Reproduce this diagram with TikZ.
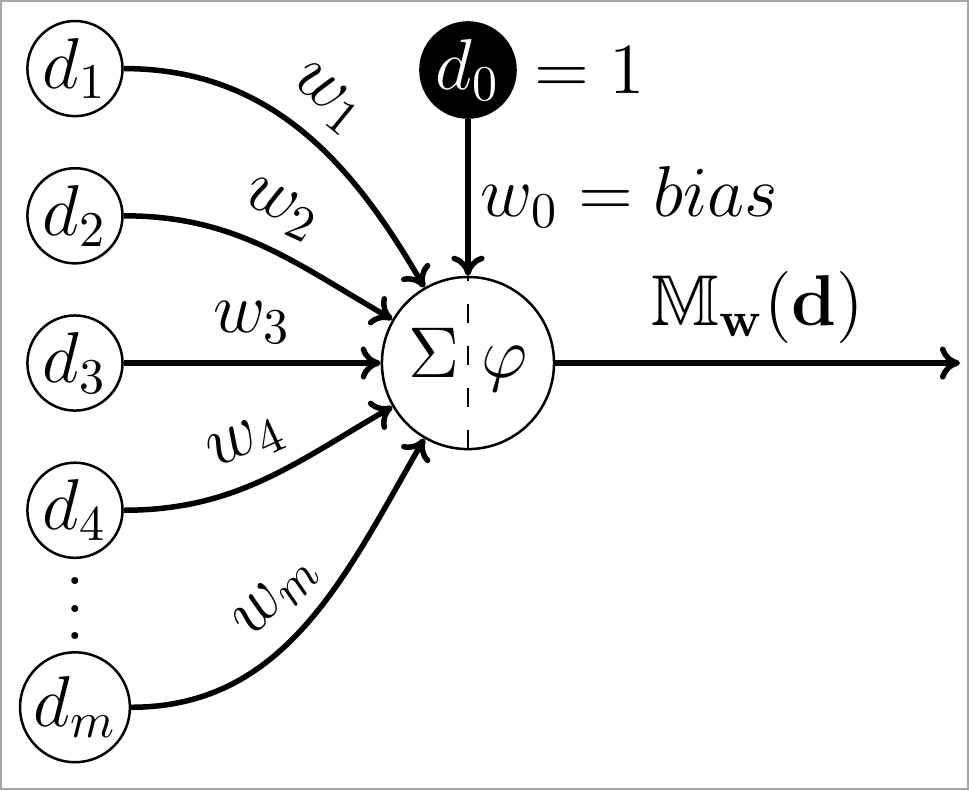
\documentclass[tikz,border=0pt]{standalone}
\usepackage{amsmath}
\usepackage{amsfonts}
\usepackage{amssymb}
\usepackage{xcolor}
\usepackage{tikz}
\usetikzlibrary{arrows.meta,positioning}

\begin{document}
\begin{tikzpicture}[
  font=\Large,
  on grid,
  node distance=1.035cm,
  input/.style={draw,circle,line width=0.5pt,inner sep=0.5pt},
  biasnode/.style={input,fill=black,text=white},
  neuron/.style={draw,circle,line width=0.5pt,minimum size=1.21cm,inner sep=0pt},
  arrow/.style={-{To[length=4pt,width=6.6pt]},line width=1.1pt},
  wlbl/.style={midway,above,sloped}
]
% --- frame ---
\useasboundingbox (-3.290,-3.002) rectangle (3.522,2.552);
\draw[gray!70,line width=0.35pt] (-3.284,-2.996) rectangle (3.516,2.546);

% --- Nodes ---
\node[neuron]                      (sum)  {};
\node[input, left=2.763cm of sum]  (d3)   {$d_3$};
\node[input, above=of d3]          (d2)   {$d_2$};
\node[input, above=of d2]          (d1)   {$d_1$};
\node[input, below=of d3]          (d4)   {$d_4$};
\node[below=0.693cm of d4, inner sep=0pt] (dots)
  {$\vcenter{\baselineskip5.5pt\lineskiplimit0pt\hbox{.}\hbox{.}\hbox{.}}$};
\node[input, below=1.385cm of d4]  (dm)   {$d_m$};
\node[biasnode, above=2.06cm of sum] (d0) {$d_0$};
\node[anchor=west] at (d0.east)    (one)  {$=1$};
\coordinate[right=3.459cm of sum]  (out);

% --- inside the neuron ---
\draw[line width=0.5pt,dash pattern=on 3.8pt off 4.6pt,dash phase=2.8pt]
  (sum.north) -- (sum.south);
\node[anchor=base] at ([shift={(-0.24cm,-0.105cm)}]sum.center) (sigma) {$\Sigma$};
\node[anchor=base] at ([shift={(0.26cm,-0.105cm)}]sum.center)  (phi)   {$\varphi$};

% --- Weighted inputs ---
\draw[arrow] (d1.east) to[out=0,in=120] node[wlbl]{$w_1$} (sum);
\draw[arrow] (d2.east) to[out=0,in=150] node[wlbl]{$w_2$} (sum);
\draw[arrow] (d3) -- node[wlbl]{$w_3$} (sum);
\draw[arrow] (d4.east) to[out=0,in=210] node[wlbl]{$w_4$} (sum);
\draw[arrow] (dm.east) to[out=0,in=240] node[wlbl]{$w_m$} (sum);

% --- Bias and output ---
\draw[arrow] (d0) -- node[midway,right,inner sep=2pt]{$w_0 = bias$} (sum);
\draw[arrow] (sum) -- node[midway,above]{$\mathbb{M}_{\mathbf{w}}(\mathbf{d})$} (out);
\end{tikzpicture}
\end{document}
